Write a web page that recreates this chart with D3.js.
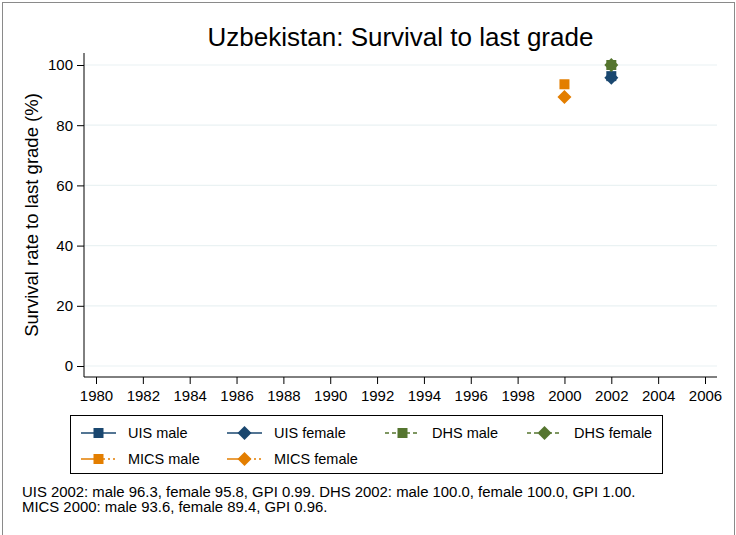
<!DOCTYPE html>
<html><head><meta charset="utf-8">
<script src="https://cdn.jsdelivr.net/npm/d3@7"></script>
<style>body{margin:0;background:#fff}svg{display:block;font-family:Arial,"Liberation Sans",sans-serif}</style>
</head><body>
<svg id="c" width="736" height="535"></svg>
<script>
const title = "Uzbekistan: Survival to last grade";
const yTitle = "Survival rate to last grade (%)";
const xTicks = [1980,1982,1984,1986,1988,1990,1992,1994,1996,1998,2000,2002,2004,2006];
const yTicks = [0,20,40,60,80,100];
const seriesNames = ["UIS male","UIS female","DHS male","DHS female","MICS male","MICS female"];
const seriesColors = ["#1a476f","#1a476f","#55752f","#55752f","#e37e00","#e37e00"];
const seriesShapes = ["square","diamond","square","diamond","square","diamond"];
const seriesDash = ["none","none","4,3","4,3","10,3,2,3","10,3,2,3"];
const uisMale = [{year:2002, v:96.3}];
const uisFemale = [{year:2002, v:95.8}];
const dhsMale = [{year:2002, v:100.0}];
const dhsFemale = [{year:2002, v:100.0}];
const micsMale = [{year:2000, v:93.6}];
const micsFemale = [{year:2000, v:89.4}];
const notes = ["UIS 2002: male 96.3, female 95.8, GPI 0.99. DHS 2002: male 100.0, female 100.0, GPI 1.00.",
               "MICS 2000: male 93.6, female 89.4, GPI 0.96."];
const seriesData = [uisMale, uisFemale, dhsMale, dhsFemale, micsMale, micsFemale];

const FONT = "Arial, 'Liberation Sans', sans-serif";
const svg = d3.select("#c");
svg.append("rect").attr("x",2.5).attr("y",2.5).attr("width",732).attr("height",540)
  .attr("fill","#fff").attr("stroke","#8a8a8a").attr("stroke-width",1);

const x = d3.scaleLinear().domain([1980,2006]).range([96,705]);
const y = d3.scaleLinear().domain([0,100]).range([366,65]);
const plotL = 84, plotR = 717, plotT = 53, plotB = 377;

// gridlines
svg.append("g").selectAll("line").data(yTicks).join("line")
  .attr("x1",plotL).attr("x2",plotR).attr("y1",d=>y(d)).attr("y2",d=>y(d))
  .attr("stroke","#eaf2f3").attr("stroke-width",1.2);

// y axis
const ya = svg.append("g").attr("transform",`translate(${plotL},0)`)
  .call(d3.axisLeft(y).tickValues(yTicks).tickSize(7).tickPadding(4));
ya.select(".domain").attr("d",`M0,${plotT}V${plotB}`).attr("stroke","#000");
ya.selectAll("text").attr("font-size",15).attr("fill","#000").attr("font-family",FONT);

// x axis
const xa = svg.append("g").attr("transform",`translate(0,${plotB})`)
  .call(d3.axisBottom(x).tickValues(xTicks).tickFormat(d3.format("d")).tickSize(7).tickPadding(6));
xa.select(".domain").attr("d",`M${plotL},0H${plotR}`).attr("stroke","#000");
xa.selectAll("text").attr("font-size",15).attr("fill","#000").attr("font-family",FONT);

// titles
svg.append("text").attr("x",400.5).attr("y",46).attr("text-anchor","middle")
  .attr("font-size",26).text(title);
svg.append("text").attr("transform",`translate(38,215) rotate(-90)`).attr("text-anchor","middle")
  .attr("font-size",18.5).text(yTitle);

function drawMarker(g, shape, cx, cy, color, s){
  if(shape==="square"){
    g.append("rect").attr("x",cx-s/2).attr("y",cy-s/2).attr("width",s).attr("height",s).attr("fill",color);
  } else {
    const r = s*0.7;
    g.append("path").attr("d",`M${cx},${cy-r}L${cx+r},${cy}L${cx},${cy+r}L${cx-r},${cy}Z`).attr("fill",color);
  }
}

// data markers
const mg = svg.append("g");
seriesData.forEach((arr,i)=>{
  arr.forEach(d=>{
    drawMarker(mg, seriesShapes[i], x(d.year), y(d.v), seriesColors[i], 10);
  });
});

// legend
svg.append("rect").attr("x",70.5).attr("y",415.5).attr("width",592).attr("height",58)
  .attr("fill","#fff").attr("stroke","#000").attr("stroke-width",1);
const legX = [81,227,385,527];
const legY = [433,459];
seriesNames.forEach((name,i)=>{
  const col = i%4, row = Math.floor(i/4);
  const lx = legX[col], ly = legY[row];
  const g = svg.append("g");
  if(seriesDash[i]==="10,3,2,3"){
    g.append("line").attr("x1",lx).attr("x2",lx+18).attr("y1",ly).attr("y2",ly)
      .attr("stroke",seriesColors[i]).attr("stroke-width",1.5);
    g.append("line").attr("x1",lx+22).attr("x2",lx+35).attr("y1",ly).attr("y2",ly)
      .attr("stroke",seriesColors[i]).attr("stroke-width",1.5).attr("stroke-dasharray","2,3");
  } else {
    g.append("line").attr("x1",lx).attr("x2",lx+35).attr("y1",ly).attr("y2",ly)
      .attr("stroke",seriesColors[i]).attr("stroke-width",1.5)
      .attr("stroke-dasharray",seriesDash[i]==="none"?null:seriesDash[i]);
  }
  drawMarker(g, seriesShapes[i], lx+17.5, ly, seriesColors[i], 10);
  g.append("text").attr("x",lx+47).attr("y",ly+5).attr("font-size",14.5).text(name);
});

// notes
notes.forEach((t,i)=>{
  svg.append("text").attr("x",22).attr("y",497+i*15).attr("font-size",14.9).text(t);
});
</script>
</body></html>
